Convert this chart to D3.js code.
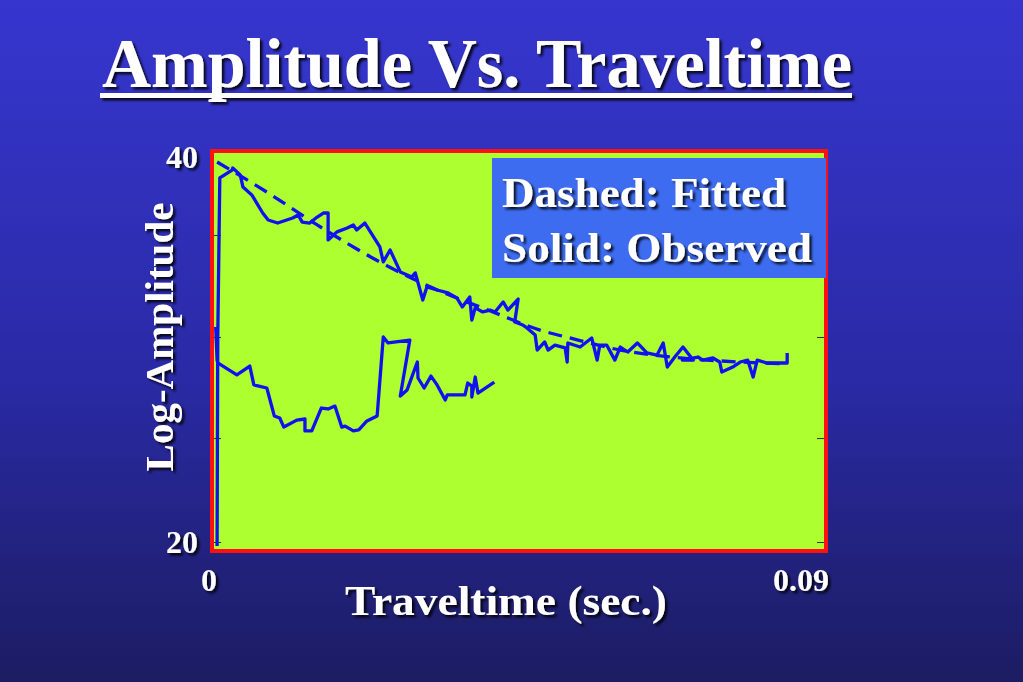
<!DOCTYPE html>
<html><head><meta charset="utf-8">
<script src="https://cdn.jsdelivr.net/npm/d3@7"></script>
<style>html,body{margin:0;padding:0;background:#2a2aa8;}svg{display:block;}</style>
</head><body>
<script>
// ---- data ----
const title = "Amplitude Vs. Traveltime";
const xLabel = "Traveltime (sec.)";
const yLabel = "Log-Amplitude";
const legendLines = ["Dashed: Fitted", "Solid: Observed"];
const xDomain = [0, 0.09];
const yDomain = [20, 40];
const xTickLabels = ["0", "0.09"];
const yTickLabels = ["20", "40"];
const yTickMarks = [20, 25.4, 30.65, 35.95];

// observed trace 1 (upper branch): time (s), log-amplitude
const obs1Time = [0.0006,0.0007,0.0010,0.0028,0.0029,0.0040,0.0044,0.0057,0.0073,0.0081,0.0095,0.0117,0.0125,0.0131,0.0142,0.0153,0.0162,0.0169,0.0169,0.0182,0.0197,0.0206,0.0211,0.0223,0.0245,0.0250,0.0260,0.0275,0.0292,0.0297,0.0308,0.0314,0.0329,0.0345,0.0358,0.0366,0.0377,0.0380,0.0385,0.0396,0.0407,0.0414,0.0426,0.0433,0.0448,0.0443,0.0455,0.0461,0.0473,0.0476,0.0487,0.0492,0.0502,0.0517,0.0520,0.0521,0.0539,0.0556,0.0564,0.0568,0.0578,0.0590,0.0598,0.0609,0.0623,0.0637,0.0652,0.0661,0.0667,0.0678,0.0690,0.0705,0.0689,0.0712,0.0719,0.0734,0.0744,0.0747,0.0763,0.0774,0.0785,0.0793,0.0799,0.0813,0.0828,0.0843,0.0843];
const obs1Amp  = [19.79,30.65,38.91,39.32,39.43,39.07,38.44,38.03,37.09,36.73,36.57,36.83,36.99,36.62,36.57,36.88,37.09,37.09,35.69,36.11,36.31,36.47,36.21,36.57,35.33,34.55,35.17,34.03,33.77,33.98,32.57,33.25,33.09,32.94,32.68,32.21,32.73,31.53,32.16,31.95,32.05,31.95,32.47,32.05,32.62,31.43,31.27,31.12,30.75,29.97,30.39,29.97,30.23,30.08,29.35,30.34,30.13,30.60,29.45,30.23,30.23,29.45,30.13,29.87,30.34,29.82,29.71,30.34,29.09,29.61,30.13,29.45,29.45,29.61,29.45,29.56,29.35,28.83,29.09,29.35,29.45,28.57,29.45,29.30,29.30,29.30,29.82];

// observed trace 2 (lower branch)
const obs2Time = [0.0004,0.0006,0.0007,0.0035,0.0054,0.0060,0.0079,0.0090,0.0098,0.0104,0.0123,0.0135,0.0135,0.0145,0.0159,0.0169,0.0179,0.0189,0.0194,0.0206,0.0214,0.0226,0.0241,0.0250,0.0257,0.0289,0.0275,0.0285,0.0300,0.0301,0.0310,0.0320,0.0329,0.0341,0.0344,0.0370,0.0374,0.0380,0.0380,0.0385,0.0389,0.0413];
const obs2Amp  = [31.17,29.45,29.30,28.68,29.14,28.16,28.00,26.55,26.44,25.97,26.33,26.39,25.77,25.77,26.96,26.91,27.06,25.97,26.02,25.77,25.82,26.29,26.55,30.65,30.34,30.49,27.58,27.90,29.35,28.52,28.00,28.62,28.16,27.38,27.64,27.64,28.26,28.10,27.53,28.57,27.74,28.31];

// fitted curve
const fitTime = [0.0006,0.0079,0.0153,0.0248,0.0323,0.0411,0.0480,0.0524,0.0598,0.0686,0.0774,0.0843];
const fitAmp  = [39.74,38.18,36.47,34.49,33.19,31.95,31.01,30.60,29.97,29.56,29.35,29.25];

// ---- drawing ----
const W = 1023, H = 682;
const svg = d3.select("body").append("svg").attr("width", W).attr("height", H);
const defs = svg.append("defs");
const bg = defs.append("linearGradient").attr("id","bg").attr("x1",0).attr("y1",0).attr("x2",0).attr("y2",1);
bg.append("stop").attr("offset","0%").attr("stop-color","#3636cf");
bg.append("stop").attr("offset","55%").attr("stop-color","#2a2aa6");
bg.append("stop").attr("offset","100%").attr("stop-color","#1c1c62");
const sh = defs.append("filter").attr("id","shadow").attr("x","-10%").attr("y","-10%").attr("width","130%").attr("height","140%");
sh.append("feDropShadow").attr("dx",2.5).attr("dy",2.5).attr("stdDeviation",0.8).attr("flood-color","#000").attr("flood-opacity",0.85);

svg.append("rect").attr("width",W).attr("height",H).attr("fill","url(#bg)");

const serif = "'Liberation Serif','Times New Roman',serif";

// title
const tg = svg.append("g").attr("filter","url(#shadow)");
tg.append("text").attr("x",102).attr("y",87).attr("font-family",serif).attr("font-weight","bold")
  .attr("font-size",70).attr("fill","#fff").attr("textLength",750).attr("lengthAdjust","spacingAndGlyphs").text(title);
tg.append("rect").attr("x",100).attr("y",93).attr("width",752).attr("height",5).attr("fill","#fff");

const x = d3.scaleLinear().domain(xDomain).range([213, 826]);
const y = d3.scaleLinear().domain(yDomain).range([542, 157]);

// plot frame
svg.append("rect").attr("x",212).attr("y",151).attr("width",614).attr("height",400)
  .attr("fill","#adff2f").attr("stroke","#ff1010").attr("stroke-width",4);

// inner tick marks (left and right)
const yAxisL = d3.axisRight(y).tickValues(yTickMarks).tickSize(7).tickFormat("");
const gL = svg.append("g").attr("transform","translate(214,0)").call(yAxisL);
gL.select(".domain").remove();
gL.selectAll("line").attr("stroke","#333").attr("stroke-width",1);
const yAxisR = d3.axisLeft(y).tickValues(yTickMarks).tickSize(7).tickFormat("");
const gR = svg.append("g").attr("transform","translate(824,0)").call(yAxisR);
gR.select(".domain").remove();
gR.selectAll("line").attr("stroke","#333").attr("stroke-width",1);

// lines
const line = d3.line().x(d => x(d[0])).y(d => y(d[1]));
const zip = (a,b) => a.map((v,i) => [v,b[i]]);
svg.append("path").datum(zip(fitTime, fitAmp))
  .attr("d", d3.line().x(d => x(d[0])).y(d => y(d[1])).curve(d3.curveMonotoneX))
  .attr("fill","none").attr("stroke","#1010f0").attr("stroke-width",3.3).attr("stroke-dasharray","14,8");
[zip(obs1Time,obs1Amp), zip(obs2Time,obs2Amp)].forEach(d => {
  svg.append("path").datum(d).attr("d", line).attr("fill","none")
    .attr("stroke","#1010f0").attr("stroke-width",3.3).attr("stroke-linejoin","round");
});

// legend box
svg.append("rect").attr("x",492).attr("y",158).attr("width",334).attr("height",120).attr("fill","#3d6cf0");
const lg = svg.append("g").attr("filter","url(#shadow)");
lg.append("text").attr("x",502).attr("y",207).attr("font-family",serif).attr("font-weight","bold")
  .attr("font-size",43).attr("fill","#fff").attr("textLength",284).attr("lengthAdjust","spacingAndGlyphs").text(legendLines[0]);
lg.append("text").attr("x",502).attr("y",262).attr("font-family",serif).attr("font-weight","bold")
  .attr("font-size",43).attr("fill","#fff").attr("textLength",310).attr("lengthAdjust","spacingAndGlyphs").text(legendLines[1]);

// tick labels & axis titles
const ag = svg.append("g").attr("filter","url(#shadow)").attr("font-family",serif).attr("font-weight","bold").attr("fill","#fff");
ag.append("text").attr("x",198).attr("y",y(yDomain[1])+11).attr("text-anchor","end").attr("font-size",32).text(yTickLabels[1]);
ag.append("text").attr("x",198).attr("y",y(yDomain[0])+11).attr("text-anchor","end").attr("font-size",32).text(yTickLabels[0]);
ag.append("text").attr("x",x(xDomain[0])-4).attr("y",591).attr("text-anchor","middle").attr("font-size",32).text(xTickLabels[0]);
ag.append("text").attr("x",x(xDomain[1])+3).attr("y",591).attr("text-anchor","end").attr("font-size",32).text(xTickLabels[1]);
ag.append("text").attr("x",345).attr("y",615).attr("font-size",43).attr("textLength",322).attr("lengthAdjust","spacingAndGlyphs").text(xLabel);
ag.append("text").attr("transform","translate(173,337) rotate(-90)").attr("text-anchor","middle").attr("font-size",41).text(yLabel);
</script>
</body></html>
